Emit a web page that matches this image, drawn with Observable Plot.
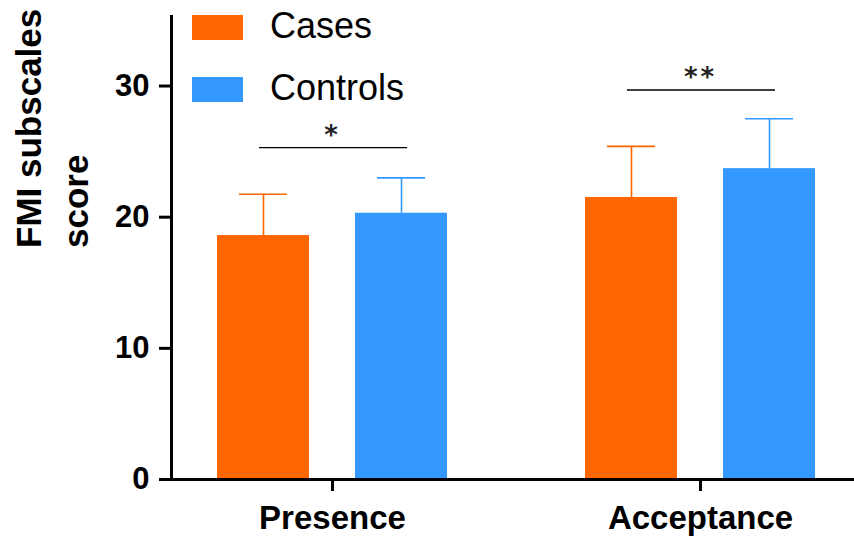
<!DOCTYPE html>
<html><head><meta charset="utf-8">
<script src="https://cdn.jsdelivr.net/npm/d3@7"></script>
<script src="https://cdn.jsdelivr.net/npm/@observablehq/plot@0.6"></script>
<style>
body{margin:0;background:#fff;font-family:"Liberation Sans",Arial,sans-serif}
#wrap{position:relative;width:854px;height:537px;overflow:hidden}
#legend{position:absolute;left:192px;top:0}
.row{position:absolute;left:0;white-space:nowrap;height:62px}
.sw{position:absolute;left:0;width:51px;height:25px}
.lb{position:absolute;left:78px;font-size:36px;line-height:36px;color:#000}
g[font-family="DejaVu Sans"] text{letter-spacing:3px}
</style></head><body><div id="wrap"><div id="chart"></div><div id="legend"></div></div>
<script>
const groups = ["Presence", "Acceptance"];
const series = ["Cases", "Controls"];
const casesMean = [18.6, 21.5];
const casesErr = [3.15, 3.9];
const controlsMean = [20.3, 23.7];
const controlsErr = [2.7, 3.8];
const colors = ["#FF6600", "#3399FF"];
const yTicks = [0, 10, 20, 30];
const sigLabels = ["*", "**"];
const sigLevels = [25.3, 29.7];
const yTitle = "FMI subscales\nscore";

const data = groups.flatMap((g, i) => [
  {group: g, series: series[0], mean: casesMean[i], err: casesErr[i]},
  {group: g, series: series[1], mean: controlsMean[i], err: controlsErr[i]}
]);
const sig = groups.map((g, i) => ({group: g, level: sigLevels[i], label: sigLabels[i]}));

const chart = Plot.plot({
  width: 854, height: 537,
  marginLeft: 171, marginRight: -7, marginTop: 16, marginBottom: 58,
  style: {fontFamily: "Liberation Sans, Arial, sans-serif", background: "#fff", color: "#000"},
  fx: {domain: groups, paddingInner: 0.125, paddingOuter: 0, label: null, axis: null},
  x: {domain: series, paddingInner: 1/3, paddingOuter: 1/3, axis: null},
  y: {domain: [0, 35.3], axis: null},
  color: {domain: series, range: colors},
  marks: [
    Plot.barY(data, {fx: "group", x: "series", y: "mean", fill: "series"}),
    Plot.ruleX(data, {fx: "group", x: "series", y1: "mean", y2: d => d.mean + d.err, stroke: "series", strokeWidth: 1.6}),
    Plot.tickY(data, {fx: "group", x: "series", y: d => d.mean + d.err, stroke: "series", strokeWidth: 1.6, insetLeft: 22, insetRight: 22}),
    Plot.ruleY(sig, {fx: "group", y: "level", stroke: "#000", strokeWidth: 1.4, insetLeft: 88, insetRight: 86}),
    Plot.text(sig, {fx: "group", y: "level", text: "label", fontSize: 26, fontWeight: "bold", fontFamily: "DejaVu Sans", lineAnchor: "bottom", dy: -4, fill: "#222"}),
    Plot.frame({anchor: "left", facet: "super", stroke: "#000", strokeWidth: 3}),
    Plot.frame({anchor: "bottom", facet: "super", stroke: "#000", strokeWidth: 3}),
    Plot.axisY({ticks: yTicks, tickSize: 12, tickPadding: 10, fontSize: 31, fontWeight: "bold", strokeWidth: 3, label: null}),
    Plot.axisFx({anchor: "bottom", tickSize: 12, tickPadding: 14, fontSize: 33, fontWeight: "bold", strokeWidth: 3, label: null}),
    Plot.text([yTitle], {facet: "super", text: d => d, frameAnchor: "left", rotate: -90, dx: -122, fontSize: 35, fontWeight: "bold", lineHeight: 1.34, fill: "#000"})
  ]
});
document.getElementById("chart").appendChild(chart);

const legend = document.getElementById("legend");
series.forEach((s, i) => {
  const row = document.createElement("div");
  row.className = "row";
  row.style.top = (i * 62) + "px";
  const sw = document.createElement("div");
  sw.className = "sw";
  sw.style.top = "15px";
  sw.style.background = colors[i];
  const lb = document.createElement("div");
  lb.className = "lb";
  lb.style.top = "8px";
  lb.textContent = s;
  row.appendChild(sw); row.appendChild(lb);
  legend.appendChild(row);
});
</script></body></html>
